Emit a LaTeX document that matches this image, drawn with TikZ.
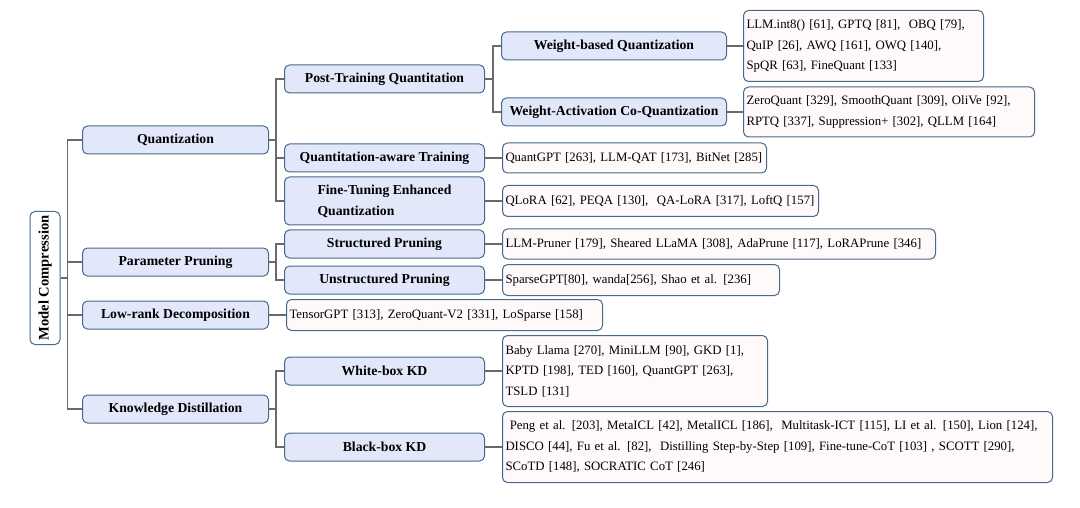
\documentclass[tikz,border=0pt]{standalone}
\usepackage{fontspec}
\setmainfont{Liberation Serif}
\usepackage{graphicx}
\usepackage{tikz}
\usetikzlibrary{positioning}
\definecolor{color_tier}{HTML}{E3E7FA}
\definecolor{color_refs}{HTML}{FFF9FA}
\definecolor{color_border}{HTML}{46698C}
\definecolor{color_branch}{HTML}{6A6A6A}

\begin{document}
\begin{tikzpicture}[x=1pt, y=-1pt, node distance=17pt, font=\fontsize{12.8}{20.5}\selectfont]
  \tikzset{ % Specifications for style of nodes:
      base/.style = {rectangle, rounded corners=5pt, draw=color_border, line width=1pt, inner sep=3pt},
      main/.style = {base, fill=white, minimum width=30pt, minimum height=133pt, inner sep=1pt, font=\fontsize{14.6}{16}\selectfont\bfseries},
      tier/.style = {base, fill=color_tier, minimum height=28pt, anchor=west, text centered, font=\fontsize{13.7}{21}\selectfont\bfseries},
      tier1/.style = {tier, minimum width=186pt},
      tier2/.style = {tier, minimum width=200pt},
      tier3/.style = {tier, minimum width=225pt},
      refs/.style = {base, fill=color_refs, align=left, anchor=west},
      branch/.style = {draw=color_branch, line width=1.4pt},
  }
  \useasboundingbox (0,0) rectangle (1080,508);

  \node (root) [main] at (45,278) {\rotatebox{90}{Model Compression}};

  \node (quant) [tier1] at (82,140) {Quantization};
  \node (prune) [tier1] at (82,262) {Parameter Pruning};
  \node (lowrank) [tier1] at (82,315) {Low-rank Decomposition};
  \node (kd) [tier1] at (82,409) {Knowledge Distillation};

  \node (ptq) [tier2] at (284,79) {Post-Training Quantitation};
  \node (qat) [tier2] at (284,158) {Quantitation-aware Training};
  \node (fteq) [tier2, minimum height=48pt, align=left] at (284,201) {Fine-Tuning Enhanced\\Quantization};
  \node (struct) [tier2] at (284,244) {Structured Pruning};
  \node (unstruct) [tier2] at (284,280) {Unstructured Pruning};
  \node (whitekd) [tier2] at (284,371) {White-box KD};
  \node (blackkd) [tier2] at (284,447) {Black-box KD};

  \node (wbq) [tier3] at (501,46) {Weight-based Quantization};
  \node (wacq) [tier3] at (501,112) {Weight-Activation Co-Quantization};

  \node (wbq_refs) [refs, right=16pt of wbq, text width=234pt, minimum height=71pt] {LLM.int8() [61], GPTQ [81], \ OBQ [79],\\QuIP [26], AWQ [161], OWQ [140],\\SpQR [63], FineQuant [133]};
  \node (wacq_refs) [refs, right=16pt of wacq, text width=285pt, minimum height=50pt] {ZeroQuant [329], SmoothQuant [309], OliVe [92],\\RPTQ [337], Suppression+ [302], QLLM [164]};
  \node (qat_refs) [refs, right=of qat, text width=258pt, minimum height=30pt] {QuantGPT [263], LLM-QAT [173], BitNet [285]};
  \node (fteq_refs) [refs, right=of fteq, text width=310pt, minimum height=31pt] {QLoRA [62], PEQA [130], \ QA-LoRA [317], LoftQ [157]};
  \node (struct_refs) [refs, right=of struct, text width=427pt, minimum height=30pt] {LLM-Pruner [179], Sheared LLaMA [308], AdaPrune [117], LoRAPrune [346]};
  \node (unstruct_refs) [refs, right=of unstruct, text width=271pt, minimum height=31pt] {SparseGPT[80], wanda[256], Shao et al. [236]};
  \node (lowrank_refs) [refs, right=of lowrank, text width=310pt, minimum height=31pt] {TensorGPT [313], ZeroQuant-V2 [331], LoSparse [158]};
  \node (whitekd_refs) [refs, right=of whitekd, text width=259pt, minimum height=71pt] {Baby Llama [270], MiniLLM [90], GKD [1],\\KPTD [198], TED [160], QuantGPT [263],\\TSLD [131]};
  \node (blackkd_refs) [refs, right=of blackkd, text width=544pt, minimum height=71pt] {\ Peng et al. [203], MetaICL [42], MetalICL [186], \ Multitask-ICT [115], LI et al. [150], Lion [124],\\DISCO [44], Fu et al. [82], \ Distilling Step-by-Step [109], Fine-tune-CoT [103] , SCOTT [290],\\SCoTD [148], SOCRATIC CoT [246]};

  \foreach \child in {quant, prune, lowrank, kd}
    \draw[branch] (root.east) -- ++(7,0) |- (\child.west);
  \foreach \child in {ptq, qat, fteq}
    \draw[branch] (quant.east) -- ++(7,0) |- (\child.west);
  \foreach \child in {struct, unstruct}
    \draw[branch] (prune.east) -- ++(7,0) |- (\child.west);
  \foreach \child in {whitekd, blackkd}
    \draw[branch] (kd.east) -- ++(7,0) |- (\child.west);
  \foreach \child in {wbq, wacq}
    \draw[branch] (ptq.east) -- ++(8,0) |- (\child.west);
  \foreach \parent in {wbq, wacq, qat, fteq, struct, unstruct, lowrank, whitekd, blackkd}
    \draw[branch] (\parent.east) -- (\parent_refs.west);
\end{tikzpicture}
\end{document}
